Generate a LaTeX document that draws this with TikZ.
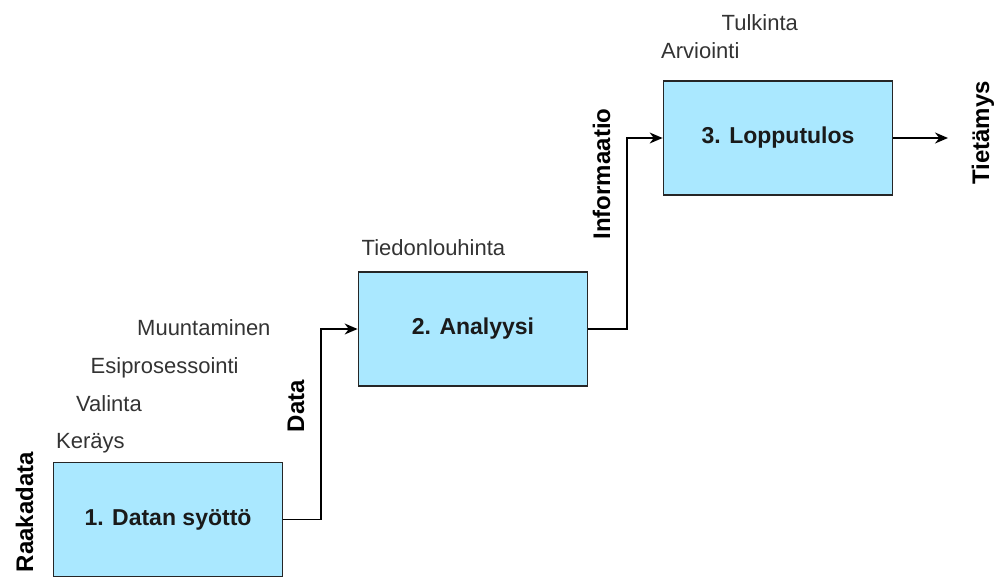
\documentclass[tikz,border=0pt]{standalone}
\usepackage{fontspec}
\setmainfont{Liberation Sans}
\usetikzlibrary{arrows.meta}
\definecolor{boxfill}{RGB}{170,232,255}
\definecolor{lbl}{RGB}{51,51,51}
\definecolor{boxtxt}{RGB}{26,26,26}
\begin{document}
\begin{tikzpicture}[x=1pt,y=-1pt,
  stagebox/.style={draw=black!85,line width=1.3pt,fill=boxfill,minimum width=229.5pt,minimum height=114pt,inner sep=0pt,
     text=boxtxt,font=\fontsize{23}{26}\selectfont\bfseries},
  steplabel/.style={anchor=base west,inner sep=0pt,text=lbl,font=\fontsize{22}{25}\selectfont},
  flowlabel/.style={rotate=90,anchor=base,inner sep=0pt,text=black,font=\fontsize{24}{27}\selectfont\bfseries},
  conn/.style={draw=black,line width=1.4pt,-{Stealth[length=13pt,width=11pt]}}]
\useasboundingbox (0,0) rectangle (999,581);
\node[stagebox] (box1) at (168,519.5) {1. Datan syöttö};
\node[stagebox] (box2) at (473,329) {2. Analyysi};
\node[stagebox] (box3) at (778,138) {3. Lopputulos};
\coordinate (out) at (948,138);

\node[steplabel] (tulk) at (721.5,30) {Tulkinta};
\node[steplabel] (arv) at (661,58) {Arviointi};
\node[steplabel] (tied) at (361.5,255) {Tiedonlouhinta};
\node[steplabel] (muun) at (137,335) {Muuntaminen};
\node[steplabel] (esi) at (90.5,373) {Esiprosessointi};
\node[steplabel] (val) at (76,411.5) {Valinta};
\node[steplabel] (ker) at (56,448) {Keräys};

\node[flowlabel] (raaka) at (33,512) {Raakadata};
\node[flowlabel] (data) at (304,406) {Data};
\node[flowlabel] (info) at (610,174) {Informaatio};
\node[flowlabel] (tiet) at (989,133) {Tietämys};

\draw[conn] (box1.east) -- ++(37.5,0) |- (box2.west);
\draw[conn] (box2.east) -- ++(38.5,0) |- (box3.west);
\draw[conn] (box3.east) -- (out);
\end{tikzpicture}
\end{document}
